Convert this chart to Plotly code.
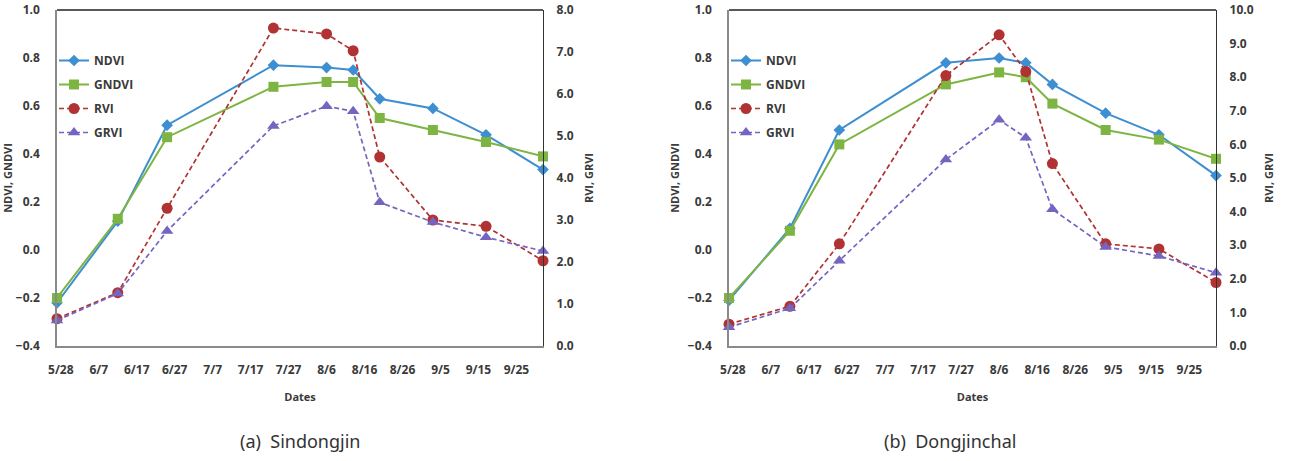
import plotly.graph_objects as go

# ---------------- data ----------------
dates = ["2015-05-27", "2015-06-12", "2015-06-25", "2015-07-23", "2015-08-06",
         "2015-08-13", "2015-08-20", "2015-09-03", "2015-09-17", "2015-10-02"]

# (a) Sindongjin
a_ndvi = [-0.22, 0.12, 0.52, 0.77, 0.76, 0.75, 0.63, 0.59, 0.48, 0.335]
a_gndvi = [-0.20, 0.13, 0.47, 0.68, 0.70, 0.70, 0.55, 0.50, 0.45, 0.39]
a_rvi = [0.65, 1.27, 3.28, 7.57, 7.43, 7.03, 4.50, 3.00, 2.85, 2.03]
a_grvi = [0.61, 1.25, 2.74, 5.24, 5.71, 5.59, 3.42, 2.95, 2.59, 2.26]

# (b) Dongjinchal
b_ndvi = [-0.21, 0.09, 0.50, 0.78, 0.80, 0.78, 0.69, 0.57, 0.48, 0.31]
b_gndvi = [-0.20, 0.08, 0.44, 0.69, 0.74, 0.72, 0.61, 0.50, 0.46, 0.38]
b_rvi = [0.65, 1.18, 3.04, 8.05, 9.26, 8.17, 5.43, 3.04, 2.89, 1.89]
b_grvi = [0.56, 1.12, 2.54, 5.55, 6.73, 6.20, 4.07, 2.95, 2.68, 2.18]

names = ["NDVI", "GNDVI", "RVI", "GRVI"]
captions = ["(a)  Sindongjin", "(b)  Dongjinchal"]
left_title = "NDVI, GNDVI"
right_title = "RVI, GRVI"
x_title = "Dates"

# ---------------- styles ----------------
C_NDVI = "#3d8fd1"
C_GNDVI = "#7db442"
C_RVI = "#b03232"
C_GRVI = "#7565c0"
FAM = "'Open Sans', Lato, sans-serif"
TICKFONT = dict(family=FAM, size=12, color="#3a3a3a", weight="bold")
TITLEFONT = dict(family=FAM, size=11, color="#3a3a3a", weight="bold")

fig = go.Figure()

def add_panel(ndvi, gndvi, rvi, grvi, xa, ya, ya2, leg):
    specs = [
        (ndvi, names[0], C_NDVI, "solid", "diamond", 9, ya),
        (gndvi, names[1], C_GNDVI, "solid", "square", 10, ya),
        (rvi, names[2], C_RVI, "dash", "circle", 11, ya2),
        (grvi, names[3], C_GRVI, "dash", "triangle-up", 11, ya2),
    ]
    for vals, nm, col, dash, sym, sz, yax in specs:
        fig.add_trace(go.Scatter(
            x=dates, y=vals, name=nm, mode="lines+markers",
            line=dict(color=col, width=2 if dash == "solid" else 1.7,
                      dash="solid" if dash == "solid" else "5px,3px"),
            marker=dict(symbol=sym, size=sz, color=col),
            xaxis=xa, yaxis=yax, legend=leg, legendgroup=leg + nm,
            cliponaxis=False,
        ))

add_panel(a_ndvi, a_gndvi, a_rvi, a_grvi, "x", "y", "y2", "legend")
add_panel(b_ndvi, b_gndvi, b_rvi, b_grvi, "x2", "y3", "y4", "legend2")

W, H = 1290, 461
domL = [57 / W, 543 / W]
domR = [729 / W, 1216 / W]
ydom = [1 - 346 / H, 1 - 10 / H]

xcommon = dict(type="date", range=["2015-05-27", "2015-10-02"], tick0="2015-05-28",
               dtick=864000000, tickformat="%-m/%-d", showgrid=False, zeroline=False,
               showline=True, linecolor="#8a8a8a", linewidth=1.5, ticks="",
               tickfont=TICKFONT, ticklabelstandoff=12, ticklabeloverflow="allow",
               automargin=False,
               title=dict(text=x_title, font=TITLEFONT, standoff=16))
yleft = dict(range=[-0.4, 1.0], dtick=0.2, tickformat=".1f", showgrid=False, zeroline=False,
             showline=True, linecolor="#8a8a8a", linewidth=1.5, ticks="", tickfont=TICKFONT,
             ticklabelstandoff=13, ticklabeloverflow="allow", automargin=False,
             title=dict(text=left_title, font=TITLEFONT, standoff=6))
yright = dict(showgrid=False, zeroline=False, showline=True, linecolor="#333333", linewidth=1.3,
              ticks="", tickfont=TICKFONT, tickformat=".1f", dtick=1, side="right",
              ticklabelstandoff=10, ticklabeloverflow="allow", automargin=False,
              title=dict(text=right_title, font=TITLEFONT, standoff=12))

LEGFONT = dict(family=FAM, size=12, color="#3a3a3a", weight="bold")
fig.update_layout(
    width=W, height=H, margin=dict(l=0, r=0, t=0, b=0, autoexpand=False),
    paper_bgcolor="white", plot_bgcolor="white",
    xaxis=dict(domain=domL, anchor="y", **xcommon),
    xaxis2=dict(domain=domR, anchor="y3", **xcommon),
    yaxis=dict(domain=ydom, anchor="x", **yleft),
    yaxis2=dict(overlaying="y", anchor="x", range=[0, 8], **yright),
    yaxis3=dict(domain=ydom, anchor="x2", **yleft),
    yaxis4=dict(overlaying="y3", anchor="x2", range=[0, 10], **yright),
    legend=dict(x=54 / W, y=1 - 46 / H, xanchor="left", yanchor="top", bgcolor="rgba(0,0,0,0)",
                font=LEGFONT, itemwidth=30, tracegroupgap=5, traceorder="grouped"),
    legend2=dict(x=726 / W, y=1 - 46 / H, xanchor="left", yanchor="top", bgcolor="rgba(0,0,0,0)",
                 font=LEGFONT, itemwidth=30, tracegroupgap=5, traceorder="grouped"),
    showlegend=True,
)

# top border of plot boxes
for xr, yr in [("x domain", "y domain"), ("x2 domain", "y3 domain")]:
    fig.add_shape(type="line", xref=xr, yref=yr, x0=0, x1=1, y0=1, y1=1,
                  line=dict(color="#222222", width=1.3), layer="below")

# captions
for cx, txt in [(300 / W, captions[0]), (950 / W, captions[1])]:
    fig.add_annotation(x=cx, y=1 - 441 / H, xref="paper", yref="paper", text=txt,
                       showarrow=False, xanchor="center", yanchor="middle",
                       font=dict(family="Noto Sans, sans-serif", size=18, color="#333333"))

fig.write_html("out.html")
